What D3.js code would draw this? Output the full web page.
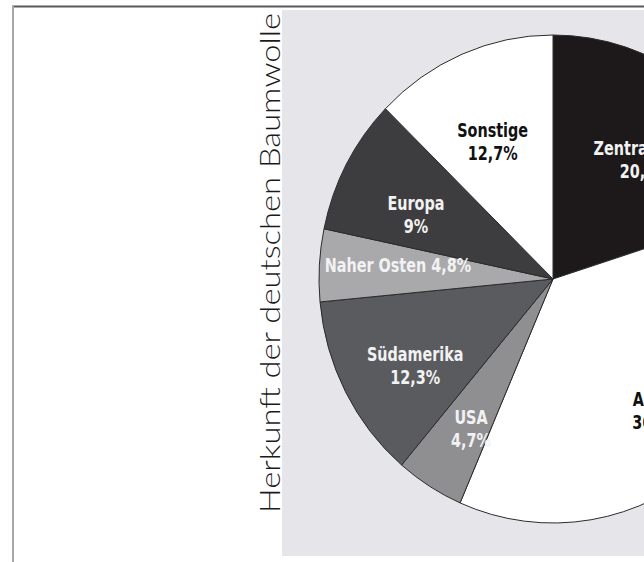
<!DOCTYPE html>
<html>
<head>
<meta charset="utf-8">
<title>Herkunft der deutschen Baumwolle</title>
<style>
  body { margin: 0; background: #fff; }
  .label { font-family: "DejaVu Sans", sans-serif; font-weight: bold; }
</style>
</head>
<body>
<script src="https://d3js.org/d3.v7.min.js"></script>
<script>

// data (clockwise from 12 o'clock)
var regions = ["Zentralasien", "Afrika", "USA", "Südamerika", "Naher Osten", "Europa", "Sonstige"];
var shares = [20.1, 36.4, 4.7, 12.3, 4.8, 9, 12.7];
var fills = ["#1d191a", "#ffffff", "#8f8f92", "#5a5b5e", "#a9a9ac", "#3d3d40", "#ffffff"];
var textColors = ["#f2f2f2", "#111", "#f2f2f2", "#f2f2f2", "#f2f2f2", "#f2f2f2", "#111"];
var singleLine = ["Naher Osten"];

var width = 644, height = 562;
var cx = 553, cy = 279, ry = 244, rx = 234;
var kx = rx / ry;

var svg = d3.select("body").append("svg")
    .attr("width", width)
    .attr("height", height);

// outer frame lines
svg.append("line").attr("x1", 12).attr("x2", width).attr("y1", 6.5).attr("y2", 6.5)
    .attr("stroke", "#5a5a5a").attr("stroke-width", 2);
svg.append("line").attr("x1", 13).attr("x2", 13).attr("y1", 6).attr("y2", height)
    .attr("stroke", "#a8a8a8").attr("stroke-width", 2);

// grey panel behind the pie
svg.append("rect")
    .attr("x", 282).attr("y", 10)
    .attr("width", width - 282).attr("height", 546)
    .attr("fill", "#e6e6ea");

// title, rotated
svg.append("text")
    .attr("transform", "translate(280,263) rotate(-90)")
    .attr("text-anchor", "middle")
    .attr("font-family", "Lato, 'Open Sans', sans-serif")
    .attr("font-weight", 300)
    .attr("font-size", 27)
    .attr("textLength", 500)
    .attr("lengthAdjust", "spacingAndGlyphs")
    .attr("fill", "#1a1a1a")
    .text("Herkunft der deutschen Baumwolle");

var data = regions.map(function(d, i) { return {name: d, value: shares[i], i: i}; });

var pie = d3.pie()
    .sort(null)
    .value(function(d) { return d.value; });

var arc = d3.arc()
    .innerRadius(0)
    .outerRadius(ry);

var labelArc = d3.arc()
    .innerRadius(162)
    .outerRadius(162);

var arcs = pie(data);

var slices = svg.append("g")
    .attr("transform", "translate(" + cx + "," + cy + ") scale(" + kx + ",1)");

slices.selectAll("path")
    .data(arcs)
    .enter().append("path")
    .attr("d", arc)
    .attr("fill", function(d) { return fills[d.data.i]; })
    .attr("stroke", "#2b2b2b")
    .attr("stroke-width", 1)
    .attr("vector-effect", "non-scaling-stroke");

var fmt = function(v) { return String(v).replace(".", ",") + "%"; };

// condensed bold labels: squeeze the glyphs horizontally
var labels = svg.append("g")
    .attr("transform", "translate(" + cx + "," + cy + ")")
    .selectAll("text")
    .data(arcs)
    .enter().append("text")
    .attr("class", "label")
    .attr("text-anchor", "middle")
    .attr("font-size", 20)
    .attr("fill", function(d) { return textColors[d.data.i]; })
    .attr("transform", function(d) {
      var c = labelArc.centroid(d);
      return "translate(" + (c[0] * kx) + "," + c[1] + ") scale(0.72,1)";
    });

labels.each(function(d) {
  var t = d3.select(this);
  if (singleLine.indexOf(d.data.name) >= 0) {
    t.append("tspan").attr("x", 0).attr("dy", "0.1em")
      .text(d.data.name + " " + fmt(d.data.value));
  } else {
    t.append("tspan").attr("x", 0).attr("dy", "0.35em").text(d.data.name);
    t.append("tspan").attr("x", 0).attr("dy", "1.15em").text(fmt(d.data.value));
  }
});

</script>
</body>
</html>
